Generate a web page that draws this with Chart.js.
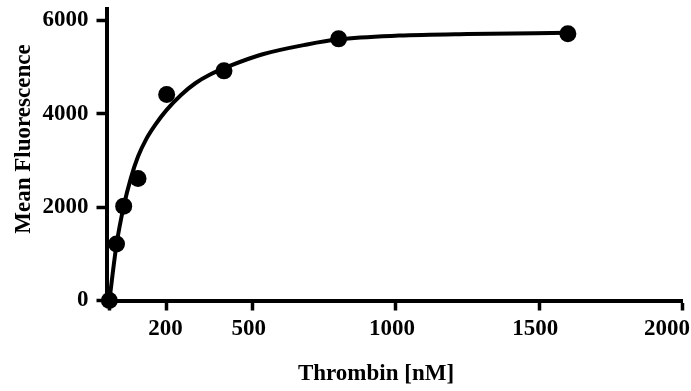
<!DOCTYPE html>
<html>
<head>
<meta charset="utf-8">
<title>Thrombin binding</title>
<script src="https://cdn.jsdelivr.net/npm/chart.js@4/dist/chart.umd.min.js"></script>
<style>
  html, body { margin: 0; padding: 0; background: #fff; }
  #wrap { width: 691px; height: 391px; position: relative; }
</style>
</head>
<body>
<div id="wrap"><canvas id="chart"></canvas></div>
<script>
// measured points
const thrombin = [0, 25, 50, 100, 200, 400, 800, 1600];
const fluorescence = [0, 1210, 2020, 2610, 4410, 4915, 5600, 5710];

// saturation fit curve, read along its length
const fitX = [0, 25, 50, 75, 100, 130, 160, 200, 250, 300, 350, 420, 535, 690, 800, 1010, 1250, 1600];
const fitY = [0, 1200, 2015, 2620, 3080, 3470, 3760, 4080, 4400, 4650, 4830, 5020, 5270, 5480, 5590, 5670, 5705, 5730];

const xTicks = [0, 200, 500, 1000, 1500, 2000];
const xTickLabels = ['', '200', '500', '1000', '1500', '2000'];
const yTicks = [0, 2000, 4000, 6000];

const FAMILY = '"Liberation Serif", "Times New Roman", serif';
const FONT = 'bold 23px ' + FAMILY;

Chart.defaults.font = { family: FAMILY, size: 23, weight: 'bold' };
Chart.defaults.color = '#000';

// axis titles sit a little off the axis centres, so they are placed by hand
const axisTitles = {
  id: 'axisTitles',
  afterDraw(chart) {
    const ctx = chart.ctx;
    ctx.save();
    ctx.font = FONT;
    ctx.fillStyle = '#000';
    ctx.textAlign = 'center';
    ctx.textBaseline = 'alphabetic';
    ctx.fillText('Thrombin [nM]', 376, 380);
    ctx.translate(30, 139);
    ctx.rotate(-Math.PI / 2);
    ctx.fillText('Mean Fluorescence', 0, 0);
    ctx.restore();
  }
};

// small nudges so the x labels sit where they should (last one stays inside the canvas)
const nudge = v => v === 200 ? ' ' : '';
const tail = v => v === 2000 ? '\u0020\u0020\u0020\u0020' : '';

new Chart(document.getElementById('chart'), {
  type: 'scatter',
  data: {
    datasets: [
      {
        label: 'fit',
        data: fitX.map((x, i) => ({ x, y: fitY[i] })),
        showLine: true,
        borderColor: '#000',
        borderWidth: 4,
        pointRadius: 0,
        cubicInterpolationMode: 'monotone',
        fill: false,
        clip: false
      },
      {
        label: 'data',
        data: thrombin.map((x, i) => ({ x, y: fluorescence[i] })),
        showLine: false,
        pointRadius: 8.5,
        pointBackgroundColor: '#000',
        pointBorderColor: '#000',
        pointBorderWidth: 0,
        clip: false
      }
    ]
  },
  options: {
    responsive: true,
    maintainAspectRatio: false,
    animation: false,
    layout: { padding: { top: 5, right: 7, left: 0, bottom: 0 } },
    plugins: { legend: { display: false }, tooltip: { enabled: false } },
    scales: {
      x: {
        type: 'linear',
        min: -10,
        max: 2000,
        afterBuildTicks: s => { s.ticks = xTicks.map(v => ({ value: v })); },
        afterFit: s => { s.height = 90.5; s.paddingLeft = 0; s.paddingRight = 0; },
        border: { display: true, width: 4, color: '#000' },
        grid: { drawOnChartArea: false, drawTicks: true, tickLength: 10, tickWidth: 3.5, tickColor: '#000' },
        ticks: {
          autoSkip: false,
          maxRotation: 0,
          padding: 5,
          labelOffset: -4,
          callback: v => nudge(v) + xTickLabels[xTicks.indexOf(v)] + tail(v)
        }
      },
      y: {
        type: 'linear',
        min: 0,
        max: 6250,
        afterBuildTicks: s => { s.ticks = yTicks.map(v => ({ value: v })); },
        afterFit: s => { s.width = 106.5; s.paddingTop = 0; s.paddingBottom = 0; },
        border: { display: true, width: 4, color: '#000' },
        grid: { drawOnChartArea: false, drawTicks: true, tickLength: 10, tickWidth: 3.5, tickColor: '#000' },
        ticks: {
          padding: 8,
          callback: v => String(v)
        }
      }
    }
  },
  plugins: [axisTitles]
});
</script>
</body>
</html>
